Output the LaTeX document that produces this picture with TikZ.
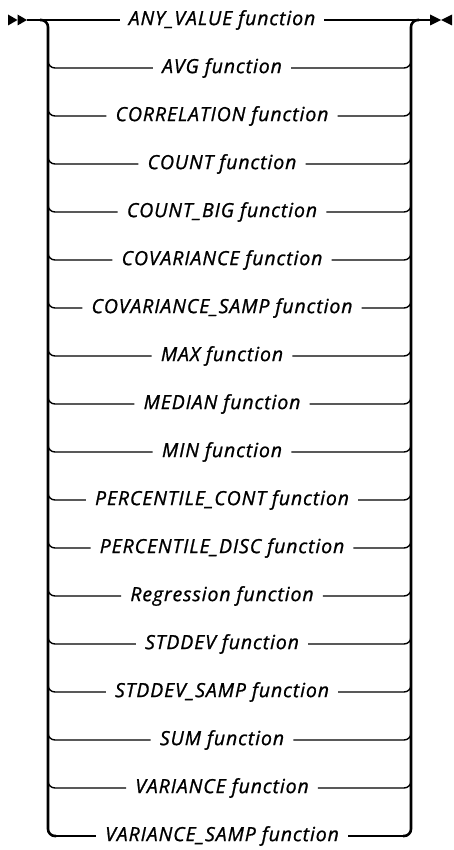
\documentclass[tikz,border=0pt]{standalone}
\usepackage{fontspec}
\newfontfamily\rrfont[FakeBold=1,LetterSpace=4.5]{Open Sans}

\tikzset{
  rrtext/.style={font=\rrfont\itshape\fontsize{19.5}{22}\selectfont,
    inner xsep=9pt, inner ysep=0pt},
  rrline/.style={line width=1.4pt},
  rrrail/.style={line width=2.6pt, rounded corners=7pt},
}

\begin{document}
\begin{tikzpicture}[x=1pt,y=-1pt]
\useasboundingbox (0,0) rectangle (453,850);
\coordinate (start) at (27,20);
\coordinate (stop) at (430,20);
\coordinate (ltop) at (48,20);
\coordinate (lbot) at (48,836);
\coordinate (rtop) at (411,20);
\coordinate (rbot) at (411,836);
% one row per function
\foreach \txt [count=\i] in {ANY\_VALUE function, AVG function,
    CORRELATION function, COUNT function, COUNT\_BIG function,
    COVARIANCE function, COVARIANCE\_SAMP function, MAX function,
    MEDIAN function, MIN function, PERCENTILE\_CONT function,
    PERCENTILE\_DISC function, Regression function, STDDEV function,
    STDDEV\_SAMP function, SUM function, VARIANCE function,
    VARIANCE\_SAMP function}
  \node[rrtext] (r\i) at (222,{20+48*(\i-1)}) {\txt};
% rails
\draw[rrrail] (ltop) ++(-8,0) -| (lbot) -- ++(8,0);
\draw[rrrail] (rbot) ++(-8,0) -| (rtop) -- ++(8,0);
% main line
\draw[rrline] (start) -- (r1.west);
\draw[rrline] (r1.east) -- (stop);
% branches
\foreach \i in {2,...,17}{
  \draw[rrline,rounded corners=7pt] (48,{20+48*(\i-1)-14}) |- (r\i.west);
  \draw[rrline,rounded corners=7pt] (r\i.east) -| (411,{20+48*(\i-1)-14});
}
\draw[rrline] (lbot) ++(8,0) -- (r18.west);
\draw[rrline] (rbot) ++(-8,0) -- (r18.east);
% start and end marks
\fill (8,14.5) -- (17.5,20) -- (8,25.5) -- cycle;
\fill (17.5,14.5) -- (start) -- (17.5,25.5) -- cycle;
\fill (stop) ++(0,-5.5) -- (441,20) -- (430,25.5) -- cycle;
\fill (452,14.5) -- (441,20) -- (452,25.5) -- cycle;
\end{tikzpicture}
\end{document}
